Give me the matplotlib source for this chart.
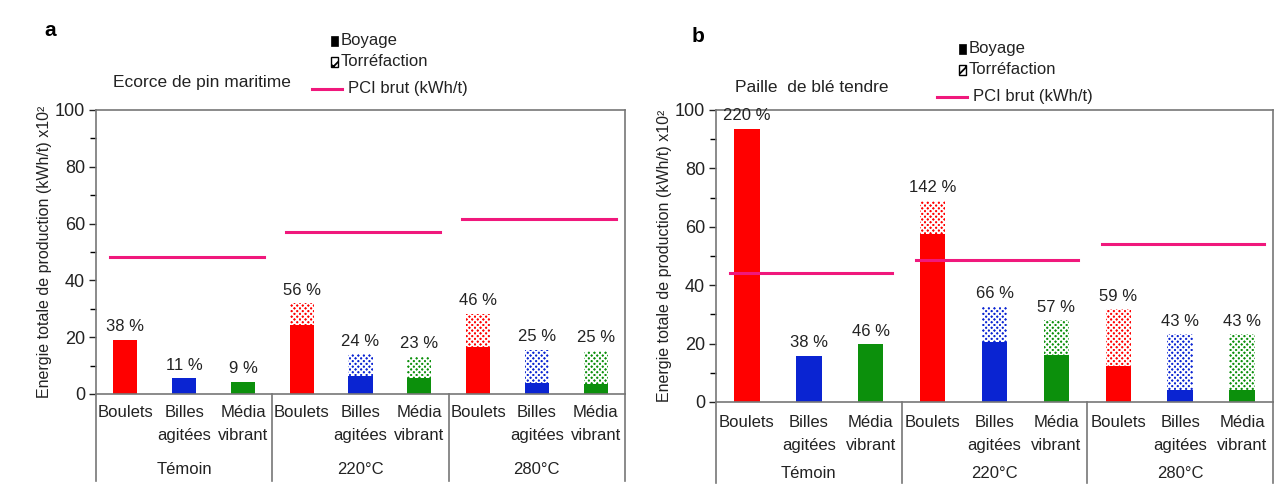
import numpy as np
import matplotlib
import matplotlib.pyplot as plt
from matplotlib.patches import Rectangle
from matplotlib.lines import Line2D

W, H = 1284, 497

# data
methodes = ["Boulets", "Billes\nagitées", "Média\nvibrant"]
traitements = ["Témoin", "220°C", "280°C"]

# panel a : ecorce de pin maritime
a_boyage = [19.0, 5.6, 4.4, 24.2, 6.2, 5.6, 16.5, 3.9, 3.5]
a_total = [19.0, 5.6, 4.4, 31.9, 14.0, 13.2, 28.2, 15.6, 15.3]
a_pct = ["38 %", "11 %", "9 %", "56 %", "24 %", "23 %", "46 %", "25 %", "25 %"]
a_pci = [48.3, 57.0, 61.7]

# panel b : paille de ble tendre
b_boyage = [93.5, 15.9, 19.8, 57.5, 20.6, 16.0, 12.2, 4.0, 4.0]
b_total = [93.5, 15.9, 19.8, 69.0, 32.6, 28.0, 31.8, 23.2, 23.2]
b_pct = ["220 %", "38 %", "46 %", "142 %", "66 %", "57 %", "59 %", "43 %", "43 %"]
b_pci = [44.2, 48.8, 54.1]

couleurs = ["#ff0000", "#0a24d2", "#0c900c"]
rose = "#f0187c"

plt.rcParams['font.family'] = ['Liberation Sans', 'DejaVu Sans']
plt.rcParams['hatch.linewidth'] = 1.3

fig = plt.figure(figsize=(W / 100, H / 100), dpi=100)


def px(x, y):
    return x / W, 1 - y / H


def panel(left, right, top, bottom, boyage, total, pct, pci, lab_rows, div_bottom):
    x0, y0 = px(left, bottom)
    x1, y1 = px(right, top)
    ax = fig.add_axes([x0, y0, x1 - x0, y1 - y0])
    pos = np.arange(9)
    cols = couleurs * 3
    ax.bar(pos, boyage, width=0.41, color=cols, linewidth=0, zorder=2)
    torr = np.array(total) - np.array(boyage)
    ax.bar(pos, torr, width=0.41, bottom=boyage, color=cols, edgecolor="white",
           hatch="xxxxxx", linewidth=0, zorder=2)
    for p, t, s in zip(pos, total, pct):
        ax.annotate(s, (p, t), xytext=(0, 4), textcoords="offset points",
                    ha="center", va="bottom", fontsize=12, color="#222222")
    for g, v in enumerate(pci):
        ax.plot([g * 3 - 0.27, g * 3 + 2.35], [v, v], color=rose, lw=2.2, zorder=3)
    ax.set_xlim(-0.5, 8.5)
    ax.set_ylim(0, 100)
    ax.set_yticks(range(0, 101, 20))
    ax.set_yticks(range(10, 100, 20), minor=True)
    ax.set_xticks([])
    ax.tick_params(axis="y", labelsize=13, colors="#222222", direction="out",
                   length=5, width=1, pad=3)
    ax.tick_params(axis="y", which="minor", length=4, width=1)
    for sp in ax.spines.values():
        sp.set_color("#777777")
        sp.set_linewidth(1.2)
    ax.set_ylabel("Energie totale de production (kWh/t) x10²", fontsize=11.5,
                  color="#222222", labelpad=2)
    trans = matplotlib.transforms.blended_transform_factory(ax.transData, ax.transAxes)
    h = bottom - top
    for d in [-0.5, 2.5, 5.5, 8.5]:
        ax.plot([d, d], [0, -(div_bottom - bottom) / h], color="#777777", lw=1.2,
                transform=trans, clip_on=False)
    for p in pos:
        ax.text(p, -(lab_rows[0] - bottom) / h, methodes[p % 3], transform=trans,
                ha="center", va="top", fontsize=12, color="#222222", linespacing=1.65)
    for g, t in enumerate(traitements):
        ax.text(g * 3 + 1, -(lab_rows[1] - bottom) / h, t, transform=trans,
                ha="center", va="center", fontsize=12, color="#222222")
    return ax


panel(96, 625, 110, 394, a_boyage, a_total, a_pct, a_pci, (405, 470), 481)
panel(716, 1273, 110, 402, b_boyage, b_total, b_pct, b_pci, (415, 473), 483)


def legende(sq_x, by, ty, lx, ly):
    sx, sy = px(sq_x, by + 5)
    fig.patches.append(Rectangle((sx, sy), 7 / W, 10 / H, transform=fig.transFigure,
                                 facecolor="black", edgecolor="black", lw=0.5))
    fig.text(*px(sq_x + 10, by), "Boyage", ha="left", va="center", fontsize=12,
             color="#222222")
    sx, sy = px(sq_x, ty + 5)
    fig.patches.append(Rectangle((sx, sy), 7 / W, 10 / H, transform=fig.transFigure,
                                 facecolor="white", edgecolor="black", hatch="xx", lw=1))
    fig.text(*px(sq_x + 10, ty), "Torréfaction", ha="left", va="center", fontsize=12,
             color="#222222")
    a1, b1 = px(lx, ly)
    a2, _ = px(lx + 30, ly)
    fig.lines.append(Line2D([a1, a2], [b1, b1], transform=fig.transFigure, color=rose, lw=2.2))
    fig.text(*px(lx + 36, ly), "PCI brut (kWh/t)", ha="left", va="center", fontsize=12,
             color="#222222")


legende(331, 41, 62, 312, 89)
legende(959, 49, 70, 937, 97)

fig.text(*px(113, 82), "Ecorce de pin maritime", ha="left", va="center", fontsize=12.5,
         color="#222222")
fig.text(*px(735, 88), "Paille  de blé tendre", ha="left", va="center", fontsize=12.5,
         color="#222222")
fig.text(*px(44, 30), "a", ha="left", va="center", fontsize=15, fontweight="bold")
fig.text(*px(692, 37), "b", ha="left", va="center", fontsize=15, fontweight="bold")

fig.savefig("out.png", dpi=100)
